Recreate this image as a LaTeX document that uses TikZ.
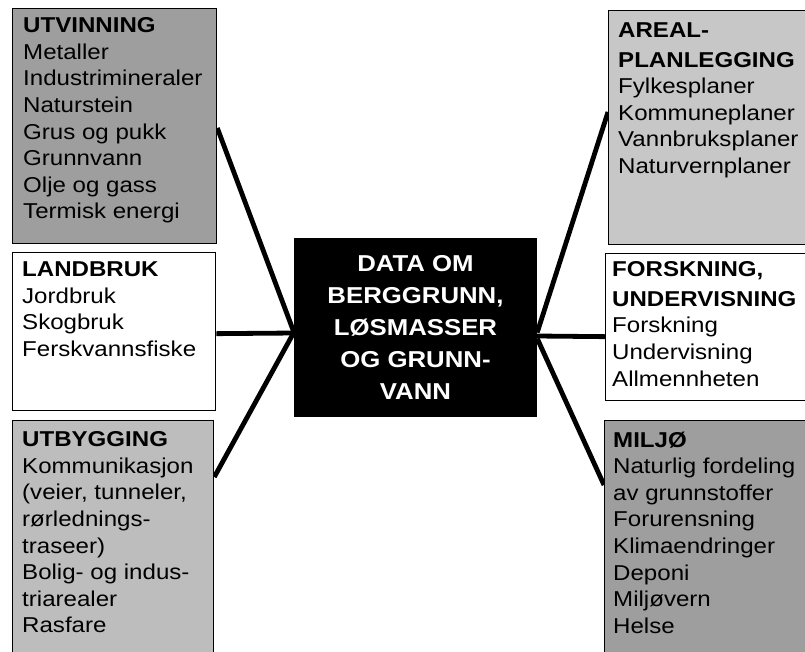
\documentclass[tikz,border=0pt]{standalone}
\usepackage{fontspec}
\setmainfont{Liberation Sans}[FakeStretch=1.12]
\pgfdeclarelayer{bg}
\pgfsetlayers{bg,main}
\begin{document}
\begin{tikzpicture}[x=1pt,y=-1pt,
  box/.style={draw=black, line width=1.3pt, rectangle, inner sep=0pt, anchor=north west},
  darkbox/.style={box, fill=black!38},
  lightbox/.style={box, fill=black!22},
  midbox/.style={box, fill=black!26},
  plainbox/.style={box, fill=white},
  txt/.style={anchor=north west, inner sep=0pt, align=left, font=\fontsize{21.5}{26.6}\selectfont},
  hub/.style={rectangle, fill=black, inner sep=0pt, text=white, align=center,
    font=\bfseries\fontsize{23}{32}\selectfont, minimum width=243pt, minimum height=179pt},
  link/.style={line width=4.8pt},
]
\useasboundingbox (0,0) rectangle (805,651);
\clip (0,0) rectangle (805,651);
\begin{pgfonlayer}{bg}
\fill[white] (0,0) rectangle (805,651);
\end{pgfonlayer}

% centre
\node[hub] (c) at (415.5,327.5) {DATA OM\\BERGGRUNN,\\LØSMASSER\\OG GRUNN-\\VANN};

% left boxes
\node[darkbox, minimum width=204pt, minimum height=235pt] (utv) at (12,8) {};
\node[txt] (utvT) at (23,17.5) {\textbf{UTVINNING}\\Metaller\\Industrimineraler\\Naturstein\\Grus og pukk\\Grunnvann\\Olje og gass\\Termisk energi};

\node[plainbox, minimum width=203pt, minimum height=158pt] (land) at (12,252) {};
\node[txt] (landT) at (22,261.5) {\textbf{LANDBRUK}\\Jordbruk\\Skogbruk\\Ferskvannsfiske};

\node[midbox, minimum width=201pt, minimum height=245pt] (utb) at (12,420) {};
\node[txt] (utbT) at (22,431.5) {\textbf{UTBYGGING}\\Kommunikasjon\\(veier, tunneler,\\rørlednings-\\traseer)\\Bolig- og indus-\\triarealer\\Rasfare};

% right boxes
\node[lightbox, minimum width=210pt, minimum height=234pt] (areal) at (608,10) {};
\node[txt] (arealT) at (618,22.5) {\textbf{AREAL-}\\[3pt]\textbf{PLANLEGGING}\\Fylkesplaner\\Kommuneplaner\\Vannbruksplaner\\Naturvernplaner};

\node[plainbox, minimum width=215pt, minimum height=147pt] (forsk) at (605,253) {};
\node[txt] (forskT) at (612,261.5) {\textbf{FORSKNING,}\\[3pt]\textbf{UNDERVISNING}\\Forskning\\Undervisning\\Allmennheten};

\node[darkbox, minimum width=215pt, minimum height=245pt] (miljo) at (604,420) {};
\node[txt] (miljoT) at (613,431.5) {\textbf{MILJØ}\\Naturlig fordeling\\av grunnstoffer\\Forurensning\\Klimaendringer\\Deponi\\Miljøvern\\Helse};

% connectors
\begin{pgfonlayer}{bg}
\draw[link] ([yshift=-120pt]utv.north east) -- ([yshift=-4.5pt]c.west);
\draw[link] ([yshift=-2pt]land.east) -- ([yshift=-5.5pt]c.west);
\draw[link] ([yshift=-57pt]utb.north east) -- ([yshift=-5pt]c.west);
\draw[link] ([yshift=-102pt]areal.north west) -- ([yshift=-5pt]c.east);
\draw[link] ([yshift=-9.5pt]forsk.west) -- ([yshift=-8.5pt]c.east);
\draw[link] ([yshift=-65pt]miljo.north west) -- ([yshift=-11pt]c.east);
\end{pgfonlayer}
\end{tikzpicture}
\end{document}
